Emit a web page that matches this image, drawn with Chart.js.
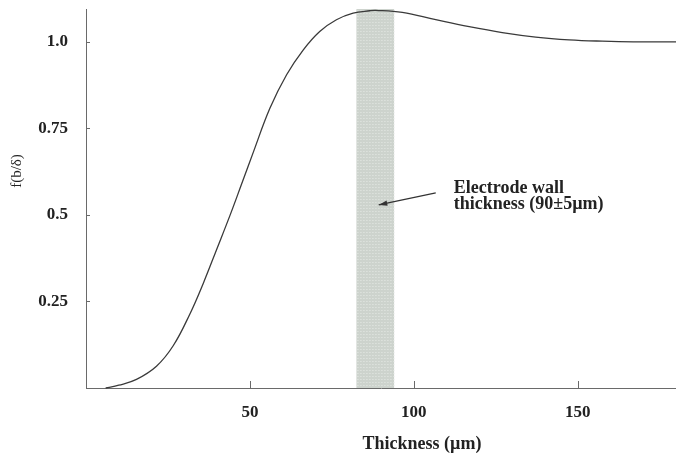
<!DOCTYPE html>
<html>
<head>
<meta charset="utf-8">
<script src="https://cdn.jsdelivr.net/npm/chart.js@4"></script>
<style>
  html, body { margin: 0; padding: 0; background: #fff; }
  #wrap { width: 676px; height: 455px; position: relative; }
</style>
</head>
<body>
<div id="wrap"><canvas id="chart"></canvas></div>
<script>
// values
const thickness = [6, 10, 15.4, 21.5, 26.6, 31.7, 35.8, 39.8, 43.9, 47.5, 51, 56.1, 61.2, 66.3, 71.3, 76.4, 81.5, 86.6, 88.4, 96.5, 106.7, 116.9, 127, 137.2, 147.4, 157.5, 167, 180];
const fValues = [0, 0.008, 0.025, 0.063, 0.122, 0.214, 0.303, 0.399, 0.498, 0.590, 0.680, 0.808, 0.905, 0.977, 1.030, 1.064, 1.083, 1.090, 1.091, 1.085, 1.064, 1.044, 1.027, 1.014, 1.006, 1.002, 1.0, 1.0];
const xTicks = [50, 100, 150];
const yTicks = [0.25, 0.5, 0.75, 1.0];
const yTickLabels = ['0.25', '0.5', '0.75', '1.0'];
const wallBand = [82.5, 94];
const noteLines = ['Electrode wall', 'thickness (90\u00b15\u00b5m)'];
const notePos = [112.2, 0.578];
const arrowFrom = [106.7, 0.564];
const arrowTo = [89.3, 0.529];

const serif = '"Liberation Serif", "DejaVu Serif", serif';

const bandPlugin = {
  id: 'band',
  beforeDatasetsDraw(chart) {
    const { ctx, scales: { x, y } } = chart;
    const x0 = x.getPixelForValue(wallBand[0]);
    const x1 = x.getPixelForValue(wallBand[1]);
    const top = y.getPixelForValue(y.max);
    const bottom = y.getPixelForValue(0);
    ctx.save();
    ctx.fillStyle = '#cdd3cd';
    ctx.fillRect(x0, top, x1 - x0, bottom - top);
    // light dotted texture
    ctx.fillStyle = '#e6eae6';
    for (let px = x0 + 1; px < x1; px += 3) {
      for (let py = top + 1; py < bottom; py += 3) {
        ctx.fillRect(px, py, 1, 1);
      }
    }
    ctx.restore();
  },
};

const decorPlugin = {
  id: 'decor',
  afterDraw(chart) {
    const { ctx, scales: { x, y } } = chart;
    ctx.save();
    ctx.strokeStyle = '#6a6a6a';
    ctx.lineWidth = 1;
    // inward ticks
    const y0 = y.getPixelForValue(0);
    const xLeft = x.getPixelForValue(0);
    xTicks.forEach((v) => {
      const px = Math.round(x.getPixelForValue(v)) + 0.5;
      ctx.beginPath();
      ctx.moveTo(px, y0);
      ctx.lineTo(px, y0 - 7);
      ctx.stroke();
    });
    yTicks.forEach((v) => {
      const py = Math.round(y.getPixelForValue(v)) + 0.5;
      ctx.beginPath();
      ctx.moveTo(xLeft, py);
      ctx.lineTo(xLeft + 4, py);
      ctx.stroke();
    });

    // arrow
    const ax = x.getPixelForValue(arrowFrom[0]);
    const ay = y.getPixelForValue(arrowFrom[1]);
    const bx = x.getPixelForValue(arrowTo[0]);
    const by = y.getPixelForValue(arrowTo[1]);
    ctx.strokeStyle = '#333';
    ctx.fillStyle = '#333';
    ctx.lineWidth = 1.2;
    ctx.beginPath();
    ctx.moveTo(ax, ay);
    ctx.lineTo(bx, by);
    ctx.stroke();
    const ang = Math.atan2(by - ay, bx - ax);
    ctx.beginPath();
    ctx.moveTo(bx, by);
    ctx.lineTo(bx - 9 * Math.cos(ang - 0.3), by - 9 * Math.sin(ang - 0.3));
    ctx.lineTo(bx - 9 * Math.cos(ang + 0.3), by - 9 * Math.sin(ang + 0.3));
    ctx.closePath();
    ctx.fill();

    // note text
    ctx.fillStyle = '#222';
    ctx.font = 'bold 18px ' + serif;
    ctx.textBaseline = 'middle';
    ctx.textAlign = 'left';
    const tx = x.getPixelForValue(notePos[0]);
    const ty = y.getPixelForValue(notePos[1]);
    ctx.fillText(noteLines[0], tx, ty);
    ctx.fillText(noteLines[1], tx, ty + 16);

    // axis titles
    ctx.font = 'bold 18px ' + serif;
    ctx.textAlign = 'center';
    ctx.fillText('Thickness (\u00b5m)', 422, 444);
    ctx.font = '15px ' + serif;
    ctx.translate(17, 171);
    ctx.rotate(-Math.PI / 2);
    ctx.fillText('f(b/\u03b4)', 0, 0);
    ctx.restore();
  },
};

new Chart(document.getElementById('chart'), {
  type: 'scatter',
  data: {
    datasets: [
      {
        data: thickness.map((t, i) => ({ x: t, y: fValues[i] })),
        showLine: true,
        borderColor: '#3a3a3a',
        borderWidth: 1.3,
        pointRadius: 0,
        tension: 0.4,
        clip: false,
      },
    ],
  },
  options: {
    responsive: true,
    maintainAspectRatio: false,
    animation: false,
    layout: { padding: { top: 9, right: 0, left: 0, bottom: 0 } },
    plugins: {
      legend: { display: false },
      tooltip: { enabled: false },
    },
    scales: {
      x: {
        type: 'linear',
        min: 0,
        max: 180,
        afterBuildTicks: (axis) => {
          axis.ticks = xTicks.map((v) => ({ value: v }));
        },
        afterFit: (axis) => {
          axis.height = 67;
          axis.paddingLeft = 0;
          axis.paddingRight = 0;
        },
        grid: { display: false },
        border: { display: true, color: '#6a6a6a', width: 1 },
        ticks: {
          color: '#222',
          padding: 6,
          maxRotation: 0,
          font: { family: serif, size: 17, weight: 'bold' },
        },
      },
      y: {
        min: 0,
        max: 1.095,
        afterBuildTicks: (axis) => {
          axis.ticks = yTicks.map((v) => ({ value: v }));
        },
        afterFit: (axis) => {
          axis.width = 86;
          axis.paddingTop = 0;
          axis.paddingBottom = 0;
        },
        grid: { display: false },
        border: { display: true, color: '#6a6a6a', width: 1 },
        ticks: {
          color: '#222',
          padding: 10,
          font: { family: serif, size: 17, weight: 'bold' },
          callback: (v) => {
            const i = yTicks.indexOf(v);
            return i >= 0 ? yTickLabels[i] : '';
          },
        },
      },
    },
  },
  plugins: [bandPlugin, decorPlugin],
});
</script>
</body>
</html>
